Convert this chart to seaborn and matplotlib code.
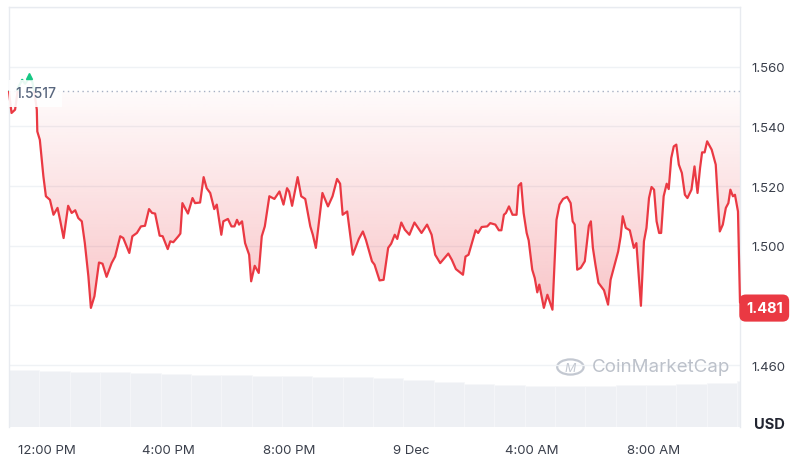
import numpy as np
import pandas as pd
import seaborn as sns
import matplotlib
matplotlib.use("Agg")
from matplotlib import pyplot as plt
import matplotlib.dates as mdates
from matplotlib.path import Path
from matplotlib.patches import Circle, Rectangle

# minutes after 8 Dec 10:45 AM and price in USD
minutes = [0, 5, 12, 18, 26, 32, 40, 46, 51, 55, 56, 61, 68, 73, 81, 88, 96, 101, 108, 117,
           124, 131, 137, 144, 150, 157, 162, 169, 178, 185, 193, 203, 210, 220, 226, 238, 244, 253, 261, 269,
           277, 283, 289, 298, 304, 314, 319, 325, 335, 339, 343, 354, 363, 368, 378, 385, 391, 398, 406, 411,
           420, 424, 433, 440, 446, 451, 455, 461, 467, 475, 479, 486, 494, 500, 506, 515, 525, 535, 543, 550,
           554, 560, 571, 578, 586, 596, 601, 607, 620, 631, 640, 649, 655, 660, 669, 680, 692, 700, 706, 718,
           723, 733, 741, 750, 756, 763, 768, 776, 783, 792, 802, 816, 827, 836, 843, 853, 869, 876, 884, 898,
           903, 909, 923, 928, 935, 946, 952, 962, 969, 974, 979, 983, 989, 996, 1004, 1008, 1013, 1018, 1024, 1028,
           1035, 1040, 1045, 1049, 1058, 1065, 1075, 1083, 1089, 1096, 1104, 1111, 1115, 1119, 1124, 1131, 1139, 1147, 1151, 1155,
           1160, 1166, 1177, 1185, 1190, 1197, 1205, 1210, 1214, 1220, 1228, 1236, 1241, 1250, 1256, 1261, 1266, 1271, 1276, 1281,
           1286, 1290, 1295, 1301, 1305, 1310, 1315, 1320, 1325, 1331, 1337, 1342, 1350, 1356, 1362, 1367, 1371, 1376, 1381, 1390,
           1398, 1403, 1406, 1412, 1418, 1423, 1427, 1432, 1436, 1442, 1446]
price = [1.5517, 1.5445, 1.5456, 1.5530, 1.5556, 1.5543, 1.5563, 1.5550, 1.5506, 1.5456, 1.5383, 1.5355, 1.5233, 1.5166, 1.5154, 1.5104, 1.5127, 1.5087, 1.5026, 1.5134,
         1.5110, 1.5119, 1.5093, 1.5082, 1.5009, 1.4898, 1.4792, 1.4831, 1.4944, 1.4940, 1.4896, 1.4942, 1.4964, 1.5032, 1.5026, 1.4976, 1.5032, 1.5043, 1.5065, 1.5067,
         1.5123, 1.5110, 1.5108, 1.5034, 1.5032, 1.4989, 1.5015, 1.5012, 1.5032, 1.5041, 1.5143, 1.5108, 1.5160, 1.5143, 1.5145, 1.5230, 1.5193, 1.5177, 1.5123, 1.5138,
         1.5037, 1.5082, 1.5090, 1.5065, 1.5065, 1.5087, 1.5071, 1.5082, 1.5009, 1.4970, 1.4881, 1.4933, 1.4909, 1.5032, 1.5065, 1.5166, 1.5157, 1.5182, 1.5138, 1.5193,
         1.5182, 1.5134, 1.5230, 1.5166, 1.5157, 1.5065, 1.5037, 1.4993, 1.5177, 1.5132, 1.5166, 1.5224, 1.5208, 1.5104, 1.5115, 1.4970, 1.5023, 1.5048, 1.5020, 1.4948,
         1.4937, 1.4884, 1.4886, 1.4993, 1.5007, 1.5037, 1.5023, 1.5078, 1.5054, 1.5037, 1.5078, 1.5043, 1.5071, 1.5037, 1.4970, 1.4942, 1.4974, 1.4953, 1.4922, 1.4903,
         1.4964, 1.4970, 1.5052, 1.5043, 1.5063, 1.5065, 1.5076, 1.5071, 1.5052, 1.5052, 1.5104, 1.5110, 1.5132, 1.5104, 1.5104, 1.5201, 1.5210, 1.5110, 1.5043, 1.5018,
         1.4920, 1.4892, 1.4844, 1.4870, 1.4792, 1.4836, 1.4786, 1.5087, 1.5138, 1.5157, 1.5164, 1.5143, 1.5082, 1.5071, 1.4920, 1.4926, 1.4948, 1.5067, 1.5082, 1.4993,
         1.4937, 1.4876, 1.4851, 1.4803, 1.4886, 1.4931, 1.4981, 1.5032, 1.5099, 1.5060, 1.5052, 1.4993, 1.5009, 1.4799, 1.5015, 1.5060, 1.5160, 1.5197, 1.5188, 1.5082,
         1.5043, 1.5043, 1.5166, 1.5208, 1.5190, 1.5294, 1.5333, 1.5339, 1.5272, 1.5244, 1.5171, 1.5160, 1.5188, 1.5266, 1.5177, 1.5261, 1.5313, 1.5313, 1.5350, 1.5322,
         1.5272, 1.5132, 1.5048, 1.5071, 1.5127, 1.5143, 1.5188, 1.5166, 1.5171, 1.5115, 1.4810]

# hourly 24h volume (millions USD)
vol_hours = list(range(25))
volume = [56, 55, 54, 54, 53, 52, 51, 51, 50, 50, 49, 49, 48, 46, 44, 42, 41, 40, 40, 40, 41, 41, 42, 43, 45]

open_price = 1.5517
last_price = 1.481
high_price = 1.5567
high_minute = 40
yticks = [1.460, 1.480, 1.500, 1.520, 1.540, 1.560, 1.580]
xtick_minutes = [75, 315, 555, 795, 1035, 1275]
xtick_labels = ["12:00 PM", "4:00 PM", "8:00 PM", "9 Dec", "4:00 AM", "8:00 AM"]

red = "#ea3943"
green = "#16c784"
grey = "#58667e"

start = pd.Timestamp("2023-12-08 10:45")
df = pd.DataFrame({"time": start + pd.to_timedelta(minutes, unit="m"), "price": price})
vol_df = pd.DataFrame({"time": start + pd.to_timedelta(vol_hours, unit="h"), "volume": volume})

sns.set_theme(style="white")
plt.rcParams["font.family"] = ["Inter", "DejaVu Sans"]

fig = plt.figure(figsize=(8, 4.6), dpi=100)
ax = fig.add_axes([0.01125, 0.0696, 0.91375, 0.913])
ax2 = ax.twinx()
ax.set_zorder(ax2.get_zorder() + 1)
ax.patch.set_visible(False)

# volume bars
ax2.bar(mdates.date2num(vol_df["time"]), vol_df["volume"], width=1 / 24, align="edge",
        color="#eef0f4", edgecolor="#f6f7f9", linewidth=0.5)
ax2.set_ylim(0, max(volume) * 420 / 57)
ax2.set_yticks([])
for s in ax2.spines.values():
    s.set_visible(False)

# gradient fill between line and open price
tnum = mdates.date2num(df["time"])
verts = [(tnum[0], open_price)] + list(zip(tnum, df["price"])) + [(tnum[-1], open_price)]
clip = Path(verts)
lo = 1.476
n = 256
grad = np.zeros((n, 1, 4))
grad[:, 0, :3] = matplotlib.colors.to_rgb(red)
grad[:, 0, 3] = np.linspace(0.30, 0.02, n)
im = ax.imshow(grad, extent=[tnum[0], tnum[-1], lo, open_price], origin="lower", aspect="auto", zorder=1)
im.set_clip_path(clip, transform=ax.transData)

# price line: red below the open, green above it
sns.lineplot(data=df, x="time", y="price", ax=ax, color=red, linewidth=1.6, zorder=3)
sns.lineplot(data=df, x="time", y="price", ax=ax, color=green, linewidth=1.6, zorder=3)
red_line, green_line = ax.lines[-2], ax.lines[-1]
below = Rectangle((tnum[0] - 1, open_price - 1), 3, 1, transform=ax.transData)
above = Rectangle((tnum[0] - 1, open_price), 3, 1, transform=ax.transData)
red_line.set_clip_path(below)
green_line.set_clip_path(above)

ax.axhline(open_price, color="#a6b0c3", linestyle=(0, (1, 2.5)), linewidth=1, zorder=2)
ax.plot([start + pd.Timedelta(minutes=high_minute)], [high_price + 0.0003], marker="^",
        color=green, markersize=4, zorder=6)

ax.text(0.008, open_price - 0.0006, "1.5517", transform=ax.get_yaxis_transform(), ha="left", va="center",
        fontsize=10, fontweight="medium", color=grey, zorder=5,
        bbox=dict(facecolor="white", edgecolor="none", alpha=0.9, pad=4.5))
ax.annotate("1.481", xy=(1.008, last_price), xycoords=ax.get_yaxis_transform(),
            xytext=(0, -4), textcoords="offset points", ha="left", va="center",
            fontsize=10.5, fontweight="bold", color="white", zorder=6, annotation_clip=False,
            bbox=dict(boxstyle="round,pad=0.45", facecolor=red, edgecolor="none"))

ax.set_ylim(1.4393, 1.580)
ax.set_xlim(df["time"].iloc[0], df["time"].iloc[-1])
ax.set_yticks(yticks[:-1])
# the 1.480 label sits under the last-price box
ax.set_yticklabels(["" if abs(v - last_price) < 0.005 else f"{v:.3f}" for v in yticks[:-1]])
ax.yaxis.tick_right()
ax.set_xticks(start + pd.to_timedelta(xtick_minutes, unit="m"))
ax.set_xticklabels(xtick_labels)
ax.tick_params(axis="both", length=0, labelsize=9.5, colors="#3a3f4b")
ax.tick_params(axis="x", pad=12)
ax.tick_params(axis="y", pad=8)
ax.set_xlabel("")
ax.set_ylabel("")
for v in yticks:
    ax.axhline(v, color="#eff2f5", linewidth=1, zorder=0)
for side in ["left", "top", "right"]:
    ax.spines[side].set_color("#e8ebf0")
    ax.spines[side].set_linewidth(1)
ax.spines["bottom"].set_visible(False)

fig.text(0.962, 0.075, "USD", ha="center", va="center", fontsize=10.5, fontweight="bold", color="#222531")

# watermark
fig.add_artist(Circle((0.713, 0.2), 0.0165, transform=fig.transFigure, fill=False,
                      edgecolor="#c3c8d1", linewidth=1.6))
fig.text(0.713, 0.197, "M", ha="center", va="center", fontsize=9, color="#c3c8d1", style="italic")
fig.text(0.74, 0.2, "CoinMarketCap", ha="left", va="center", fontsize=13.5, color="#bcc1ca")

fig.savefig("out.png", dpi=100)
